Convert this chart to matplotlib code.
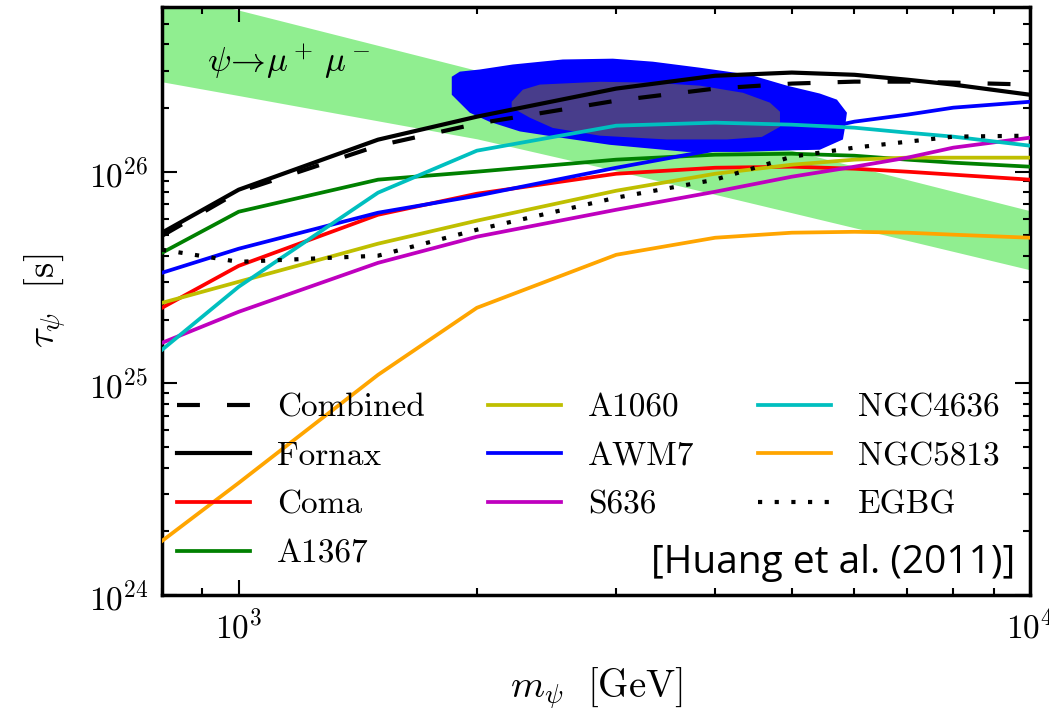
import numpy as np
import matplotlib
matplotlib.use("Agg")
import matplotlib.pyplot as plt

# ---------------- data (tau in units of 1e25 s) ----------------
mass = [800, 1000, 1500, 2000, 3000, 4000, 5000, 6000, 7000, 8000, 10000]
combined = [4.98, 8.04, 13.27, 16.86, 21.66, 24.7, 26.08, 26.64, 26.64, 26.35, 25.8]
fornax = [5.15, 8.22, 14.17, 18.2, 24.7, 28.4, 29.4, 28.7, 27.2, 25.8, 23.1]
coma = [2.275, 3.59, 6.26, 7.87, 9.78, 10.44, 10.56, 10.33, 10.0, 9.68, 9.17]
a1367 = [4.14, 6.47, 9.17, 10.0, 11.4, 12.03, 12.16, 11.9, 11.4, 11.03, 10.56]
a1060 = [2.40, 3.02, 4.57, 5.87, 8.13, 9.78, 10.79, 11.4, 11.65, 11.65, 11.65]
awm7 = [3.33, 4.325, 6.40, 7.70, 10.44, 12.71, 14.96, 17.24, 18.6, 20.07, 21.4]
s636 = [1.554, 2.178, 3.71, 4.93, 6.61, 8.04, 9.47, 10.56, 11.65, 12.99, 14.48]
ngc4636 = [1.44, 2.86, 7.96, 12.57, 16.5, 17.05, 16.68, 16.14, 15.29, 14.64, 13.27]
ngc5813 = [0.18, 0.3385, 1.097, 2.275, 4.05, 4.875, 5.15, 5.20, 5.15, 5.04, 4.875]
egbg = [4.28, 3.75, 4.01, 5.32, 7.54, 9.17, 11.77, 12.99, 13.86, 14.64, 14.8]

band_mass = [800, 1000, 2000, 3000, 5000, 10000]
band_upper = [71.7, 58.0, 30.1, 20.5, 12.6, 6.54]
band_lower = [26.6, 22.9, 14.3, 10.1, 6.40, 3.44]

outer_mass = [1859, 1903, 2017, 2220, 2568, 2970, 3337, 3826, 4426, 4930, 5426, 5702,
              5870, 5836, 5802, 5426, 4930, 4298, 3685, 3213, 2944, 2546, 2266, 2076, 1959, 1859]
outer_tau = [28.1, 29.7, 30.4, 32.1, 33.9, 34.2, 33.1, 31.0, 28.7, 25.5, 23.4, 21.9,
             19.0, 16.1, 14.2, 12.7, 12.6, 12.4, 12.4, 13.0, 13.4, 14.5, 15.5, 17.2, 19.0, 23.1]
inner_mass = [2213, 2286, 2402, 2860, 3308, 3826, 4337, 4691, 4831, 4831, 4583, 4139,
              3476, 2860, 2494, 2333, 2213]
inner_tau = [21.4, 24.4, 25.8, 26.6, 26.35, 25.5, 23.6, 21.2, 19.2, 16.3, 14.6, 14.2,
             14.2, 14.8, 16.1, 18.0, 20.1]

UNIT = 1e25

plt.rcParams.update({
    'font.family': 'serif',
    'font.serif': ['cmr10'],
    'mathtext.fontset': 'cm',
    'axes.formatter.use_mathtext': True,
    'axes.unicode_minus': False,
})

W, H = 1049, 714
fig = plt.figure(figsize=(W/100, H/100), dpi=100)
ax = fig.add_axes([162/W, 1-595/H, (1030-162)/W, (595-7)/H])

s = lambda v: np.asarray(v) * UNIT

ax.fill_between(band_mass, s(band_lower), s(band_upper), color='#90EE90', lw=0, zorder=1)
ax.fill(outer_mass, s(outer_tau), color='#0000FF', lw=0, zorder=2)
ax.fill(inner_mass, s(inner_tau), color='#483D8B', lw=0, zorder=3)

lw = 2.7
ax.plot(mass, s(combined), color='k', lw=3, dashes=(5.5, 6.5), label='Combined', zorder=5)
ax.plot(mass, s(fornax), color='k', lw=3, label='Fornax', zorder=5)
ax.plot(mass, s(coma), color='#FF0000', lw=lw, label='Coma', zorder=4)
ax.plot(mass, s(a1367), color='#008000', lw=lw, label='A1367', zorder=4)
ax.plot(mass, s(a1060), color='#BFBF00', lw=lw, label='A1060', zorder=4)
ax.plot(mass, s(awm7), color='#0000FF', lw=lw, label='AWM7', zorder=4)
ax.plot(mass, s(s636), color='#BF00BF', lw=lw, label='S636', zorder=4)
ax.plot(mass, s(ngc4636), color='#00BFBF', lw=lw, label='NGC4636', zorder=4)
ax.plot(mass, s(ngc5813), color='#FFA500', lw=lw, label='NGC5813', zorder=4)
ax.plot(mass, s(egbg), color='k', lw=3, dashes=(1, 3), label='EGBG', zorder=5)

ax.set_xscale('log')
ax.set_yscale('log')
ax.set_xlim(800, 10000)
ax.set_ylim(1e24, 6e26)

for sp in ax.spines.values():
    sp.set_linewidth(2.5)
ax.tick_params(which='both', direction='in', top=True, right=True, labelsize=24)
ax.tick_params(which='major', length=11, width=1.5, pad=10)
ax.tick_params(which='minor', length=5, width=1.5)

ax.set_xlabel(r'$m_\psi\ \ [\mathrm{GeV}]$', fontsize=28)
ax.xaxis.set_label_coords(0.5, -(688-595)/588)
ax.set_ylabel(r'$\tau_\psi\ \ [\mathrm{s}]$', fontsize=28)
ax.yaxis.set_label_coords(-(162-45)/868, 0.5)
ax.xaxis.label.set_va('center')
ax.yaxis.label.set_va('center')

fig.text(207/W, 1-62/H, r'$\psi\!\rightarrow\!\mu^+\,\mu^-$', fontsize=25,
         va='center', ha='left')

leg = ax.legend(ncol=3, frameon=False, fontsize=24, loc='upper left',
                bbox_to_anchor=(177/W, 1-393/H), bbox_transform=fig.transFigure,
                borderpad=0, handlelength=2.2, handletextpad=0.8, columnspacing=1.9,
                labelspacing=0.58, borderaxespad=0)

fig.text(1015/W, 1-563/H, '[Huang et al. (2011)]', family='Open Sans', fontsize=28,
         ha='right', va='center')

fig.savefig('out.png', dpi=100)
